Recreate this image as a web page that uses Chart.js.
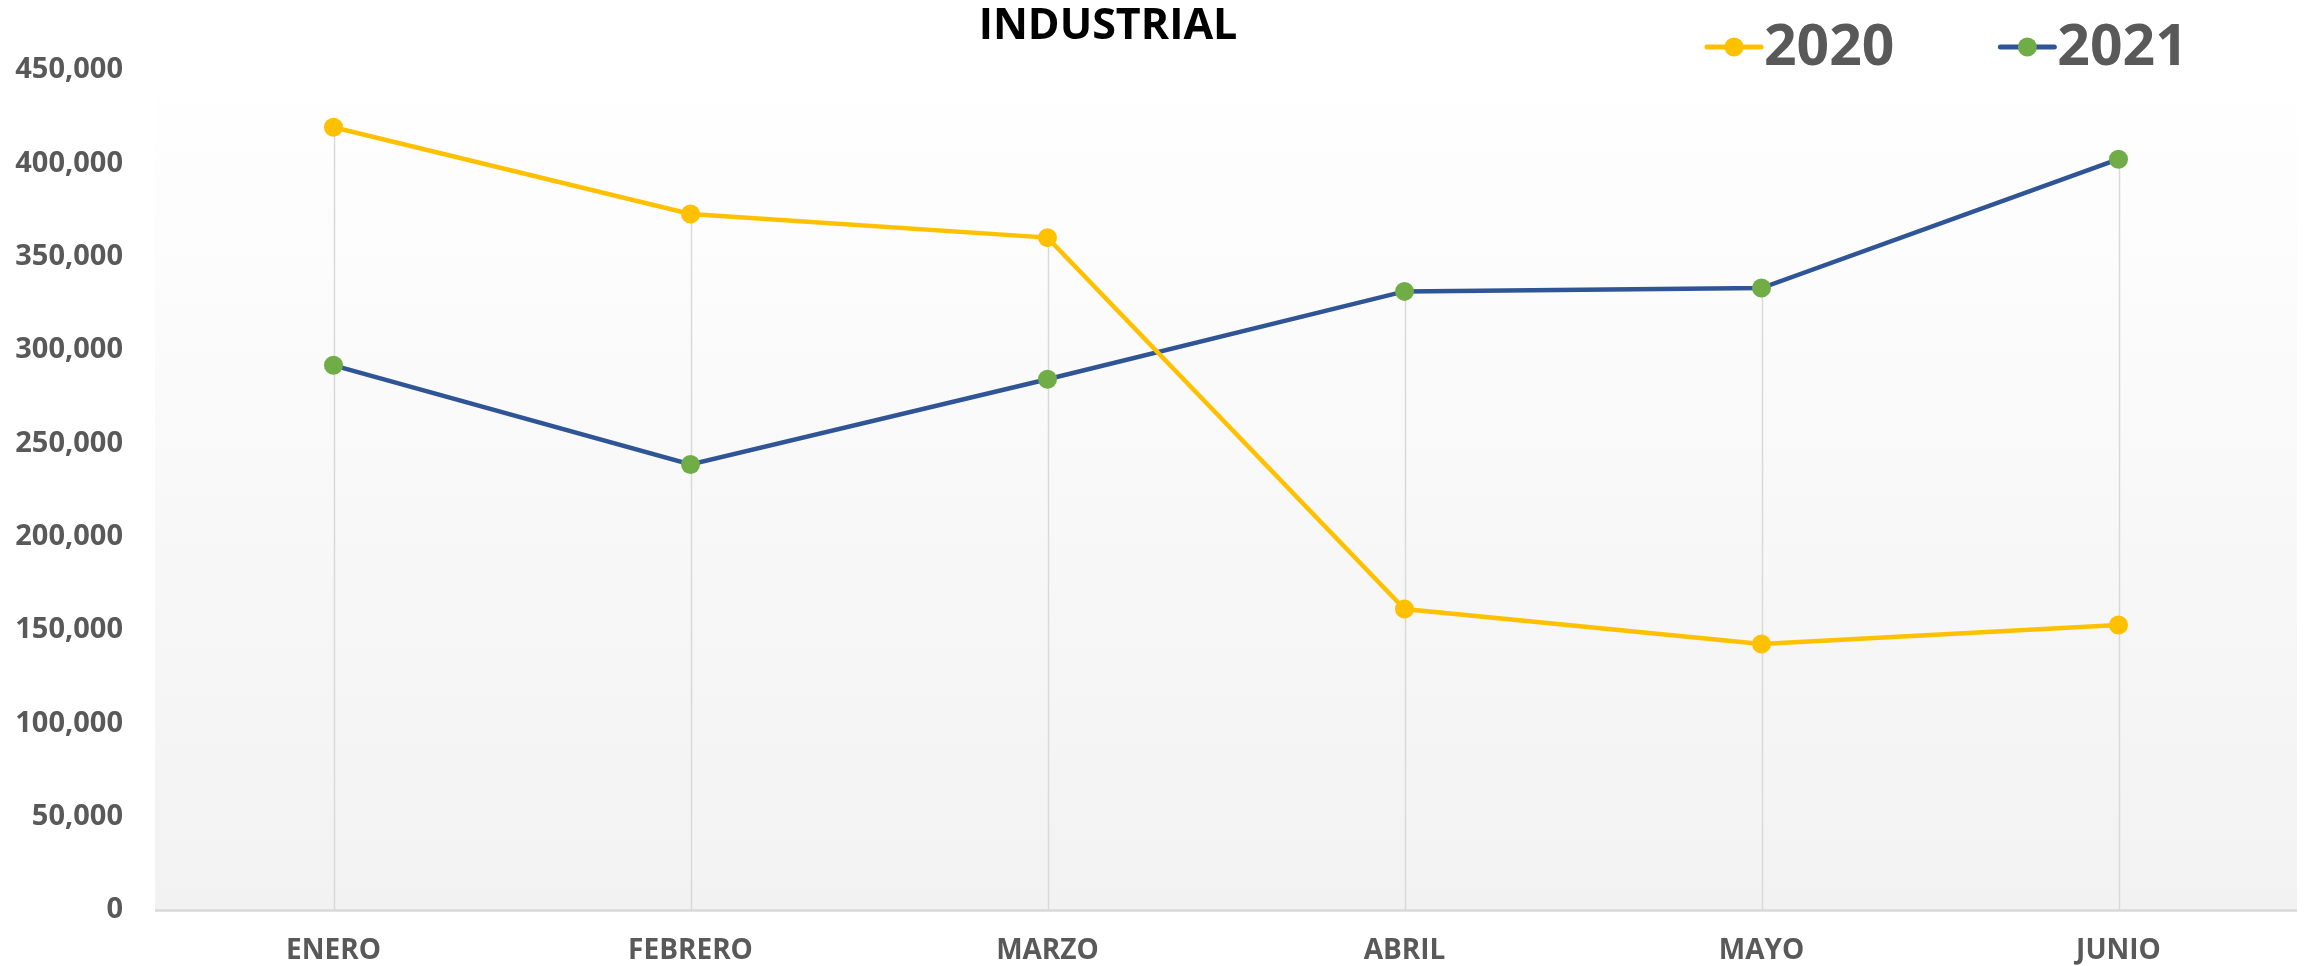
<!DOCTYPE html>
<html>
<head>
<meta charset="utf-8">
<title>INDUSTRIAL</title>
<script src="https://cdn.jsdelivr.net/npm/chart.js@4.4.1/dist/chart.umd.min.js"></script>
<style>
  html, body { margin: 0; padding: 0; background: #ffffff; }
  #wrap { width: 2312px; height: 966px; }
</style>
</head>
<body>
<div id="wrap"><canvas id="industrialChart" width="2312" height="966"></canvas></div>
<script>
const months = ['ENERO', 'FEBRERO', 'MARZO', 'ABRIL', 'MAYO', 'JUNIO'];
const values2020 = [419300, 372900, 360200, 161200, 142500, 152700];
const values2021 = [291800, 238700, 284300, 331400, 333200, 402200];
const seriesNames = ['2020', '2021'];
const yTicks = [0, 50000, 100000, 150000, 200000, 250000, 300000, 350000, 400000, 450000];

const labelColor = '#595959';
const fontFamily = '"Open Sans", "DejaVu Sans", sans-serif';

// plot area background: light vertical gradient, then drop lines under the points
const plotBackground = {
    id: 'plotBackground',
    beforeDraw(chart) {
        const { ctx, chartArea: a } = chart;
        const g = ctx.createLinearGradient(0, a.top - 10, 0, a.bottom);
        g.addColorStop(0, '#ffffff');
        g.addColorStop(1, '#f2f2f2');
        ctx.save();
        ctx.fillStyle = g;
        ctx.fillRect(a.left, a.top - 10, a.right - a.left, a.bottom - a.top + 10);
        ctx.restore();
    },
    beforeDatasetsDraw(chart) {
        const { ctx, scales: { x, y } } = chart;
        ctx.save();
        ctx.strokeStyle = '#d9d9d9';
        ctx.lineWidth = 1.5;
        months.forEach((m, i) => {
            const top = Math.max(values2020[i], values2021[i]);
            const px = Math.round(x.getPixelForValue(i)) + 0.5;
            ctx.beginPath();
            ctx.moveTo(px, y.getPixelForValue(top));
            ctx.lineTo(px, y.getPixelForValue(0));
            ctx.stroke();
        });
        // category axis line
        ctx.lineWidth = 2.5;
        ctx.beginPath();
        ctx.moveTo(chart.chartArea.left, y.getPixelForValue(0) + 0.5);
        ctx.lineTo(chart.chartArea.right, y.getPixelForValue(0) + 0.5);
        ctx.stroke();
        ctx.restore();
    }
};

// title and legend drawn in the top strip
const headerText = {
    id: 'headerText',
    afterDraw(chart) {
        const { ctx } = chart;
        ctx.save();
        ctx.fillStyle = '#000000';
        ctx.font = 'bold 43px ' + fontFamily;
        ctx.textAlign = 'center';
        ctx.textBaseline = 'middle';
        ctx.fillText('INDUSTRIAL', 1108, 27);

        ctx.font = 'bold 57px ' + fontFamily;
        ctx.textAlign = 'left';
        let lx = 1707;
        const ly = 47;
        chart.data.datasets.forEach(ds => {
            ctx.strokeStyle = ds.borderColor;
            ctx.lineWidth = 5;
            ctx.lineCap = 'round';
            ctx.beginPath();
            ctx.moveTo(lx, ly);
            ctx.lineTo(lx + 54, ly);
            ctx.stroke();
            ctx.fillStyle = ds.pointBackgroundColor;
            ctx.beginPath();
            ctx.arc(lx + 27, ly, 9.5, 0, Math.PI * 2);
            ctx.fill();
            ctx.fillStyle = labelColor;
            ctx.fillText(ds.label, lx + 57, ly + 2);
            lx += 57 + ctx.measureText(ds.label).width + 106;
        });
        ctx.restore();
    }
};

new Chart(document.getElementById('industrialChart').getContext('2d'), {
    type: 'line',
    data: {
        labels: months,
        datasets: [
            {
                label: seriesNames[0], data: values2020,
                borderColor: '#ffc000', backgroundColor: '#ffc000',
                pointBackgroundColor: '#ffc000', pointBorderColor: '#ffc000',
                borderWidth: 4.5, pointRadius: 9.5, pointBorderWidth: 0, tension: 0
            },
            {
                label: seriesNames[1], data: values2021,
                borderColor: '#2f5597', backgroundColor: '#2f5597',
                pointBackgroundColor: '#70ad47', pointBorderColor: '#70ad47',
                borderWidth: 4.5, pointRadius: 9.5, pointBorderWidth: 0, tension: 0
            }
        ]
    },
    options: {
        responsive: false, animation: false, devicePixelRatio: 1,
        layout: { padding: { top: 70, right: 15, left: 0, bottom: 0 } },
        plugins: { legend: { display: false }, title: { display: false }, tooltip: { enabled: false } },
        scales: {
            x: {
                offset: true,
                grid: { display: false, offset: false },
                border: { display: false },
                ticks: { color: labelColor, padding: 16, font: { family: fontFamily, size: 28, weight: 'bold' } },
                afterFit: s => { s.height = 56; }
            },
            y: {
                min: yTicks[0], max: yTicks[yTicks.length - 1],
                grid: { display: false, drawTicks: false },
                border: { display: false },
                afterBuildTicks: s => { s.ticks = yTicks.map(v => ({ value: v })); },
                ticks: {
                    color: labelColor, padding: 32,
                    font: { family: fontFamily, size: 29, weight: 'bold' },
                    callback: v => v.toLocaleString('en-US')
                },
                afterFit: s => { s.width = 155; }
            }
        }
    },
    plugins: [plotBackground, headerText]
});
</script>
</body>
</html>
